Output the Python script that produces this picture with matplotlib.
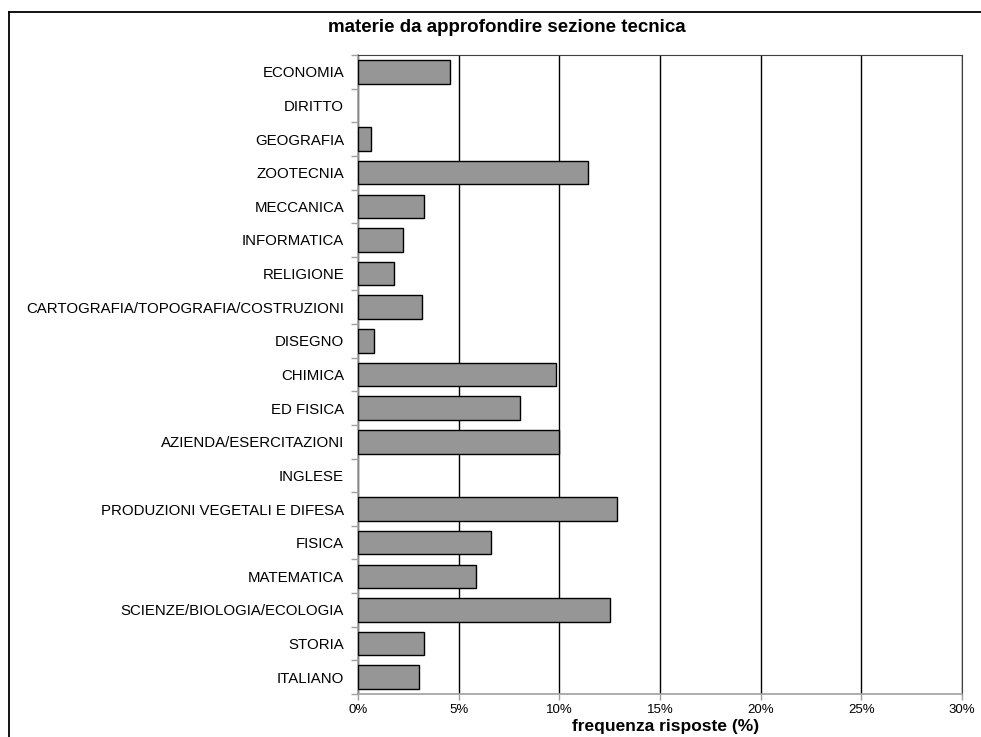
import matplotlib
matplotlib.use("Agg")
import matplotlib.pyplot as plt
from matplotlib.lines import Line2D
from matplotlib.ticker import FixedLocator, FuncFormatter

plt.rcParams['font.family'] = ['Liberation Sans', 'DejaVu Sans']

categories = ["ECONOMIA", "DIRITTO", "GEOGRAFIA", "ZOOTECNIA", "MECCANICA",
              "INFORMATICA", "RELIGIONE", "CARTOGRAFIA/TOPOGRAFIA/COSTRUZIONI",
              "DISEGNO", "CHIMICA", "ED FISICA", "AZIENDA/ESERCITAZIONI",
              "INGLESE", "PRODUZIONI VEGETALI E DIFESA", "FISICA",
              "MATEMATICA", "SCIENZE/BIOLOGIA/ECOLOGIA", "STORIA", "ITALIANO"]
values = [4.55, 0.0, 0.65, 11.4, 3.3, 2.24, 1.78, 3.17, 0.78, 9.85, 8.07,
          10.0, 0.0, 12.84, 6.6, 5.88, 12.52, 3.3, 3.04]
xticks = [0, 5, 10, 15, 20, 25, 30]
title = "materie da approfondire sezione tecnica"
xlabel = "frequenza risposte (%)"

W, H = 981, 737
fig = plt.figure(figsize=(W / 100, H / 100), dpi=100)
L, R, T, B = 358, 962, 55, 694
ax = fig.add_axes([L / W, 1 - B / H, (R - L) / W, (B - T) / H])

n = len(categories)
ypos = list(range(n))
edges = ["black" if v > 0 else "none" for v in values]
ax.barh(ypos, values, height=0.7, color="#969696", edgecolor=edges,
        linewidth=1.0, zorder=3)
ax.set_ylim(n - 0.5, -0.5)
ax.set_xlim(0, 30)

ax.set_yticks(ypos)
ax.set_yticklabels(categories, fontsize=10.8)
ax.yaxis.set_minor_locator(FixedLocator([i - 0.5 for i in range(n + 1)]))
ax.tick_params(axis="y", which="major", length=0, pad=10)
ax.tick_params(axis="y", which="minor", length=5, color="#a0a0a0", width=1)

ax.set_xticks(xticks)
ax.xaxis.set_major_formatter(FuncFormatter(lambda v, p: f"{int(v)}%"))
ax.tick_params(axis="x", length=4, color="#a0a0a0", width=1, labelsize=9.5, pad=3)

ax.grid(axis="x", color="black", linewidth=1.0, zorder=1)
ax.set_axisbelow(True)
for s in ["left", "bottom"]:
    ax.spines[s].set_color("#a0a0a0")
    ax.spines[s].set_linewidth(1.2)
ax.spines["top"].set_color("#404040")
ax.spines["right"].set_color("#404040")

ax.set_xlabel(xlabel, fontsize=12.5, fontweight="bold", va="center")
ax.xaxis.set_label_coords((666 - L) / (R - L), -(727 - B) / (B - T))
fig.text(507 / W, 1 - 27 / H, title, fontsize=13.5, fontweight="bold",
         ha="center", va="center")

# outer chart frame (top and left edges visible)
fig.add_artist(Line2D([8.5 / W, 1.0], [1 - 11.5 / H, 1 - 11.5 / H],
                      transform=fig.transFigure, color="black", linewidth=1.3))
fig.add_artist(Line2D([8.5 / W, 8.5 / W], [0, 1 - 11.5 / H],
                      transform=fig.transFigure, color="black", linewidth=1.3))

fig.savefig("out.png", dpi=100)
